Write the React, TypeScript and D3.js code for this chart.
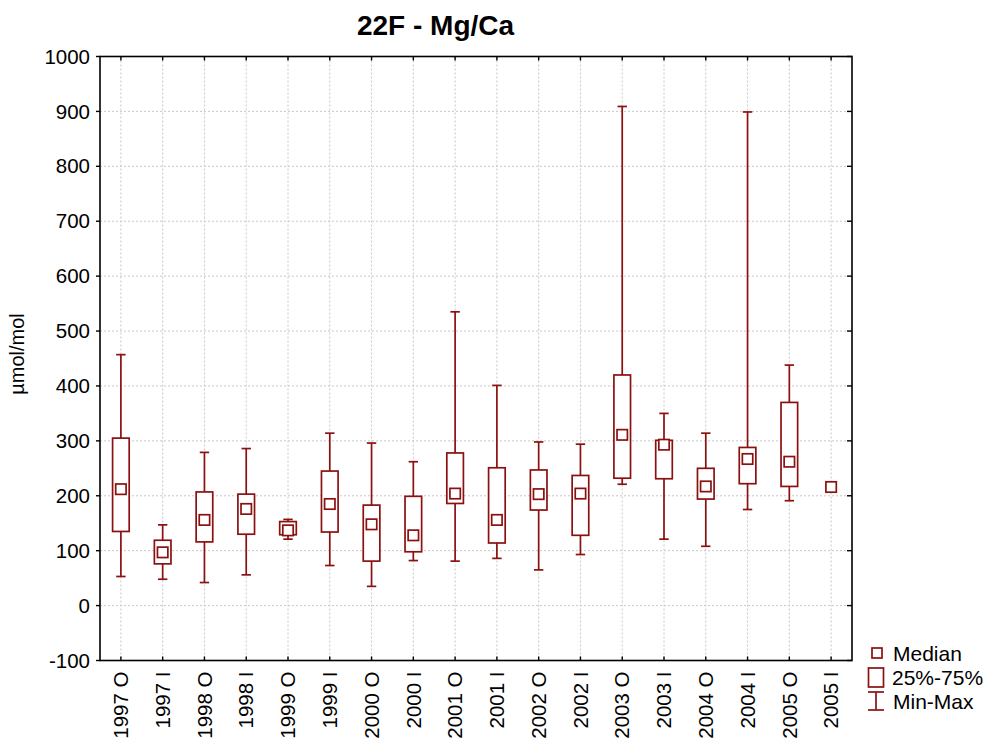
import React from "react";
import * as d3 from "d3";

const categories = [
  "1997 O", "1997 I", "1998 O", "1998 I", "1999 O", "1999 I", "2000 O", "2000 I", "2001 O",
  "2001 I", "2002 O", "2002 I", "2003 O", "2003 I", "2004 O", "2004 I", "2005 O", "2005 I",
];
const mins = [53, 48, 42, 56, 121, 73, 35, 82, 81, 86, 65, 93, 221, 121, 108, 175, 191, 216];
const q1s = [135, 76, 116, 130, 129, 134, 81, 98, 186, 114, 174, 128, 232, 231, 194, 222, 217, 216];
const medians = [212, 97, 156, 176, 137, 185, 148, 128, 204, 156, 203, 204, 311, 293, 217, 267, 262, 216];
const q3s = [305, 119, 207, 203, 153, 245, 183, 199, 278, 251, 247, 237, 420, 301, 250, 288, 370, 216];
const maxs = [457, 147, 279, 286, 157, 314, 296, 262, 535, 401, 298, 294, 909, 350, 314, 899, 438, 216];
const yTicks = [-100, 0, 100, 200, 300, 400, 500, 600, 700, 800, 900, 1000];

const W = 987;
const H = 742;
const M = { left: 100, right: 852, top: 56.5, bottom: 660.5 };
const RED = "#8b1111";
const FONT = "Liberation Sans, Arial, sans-serif";

export default function App() {
  const x = d3.scaleBand<string>().domain(categories).range([M.left, M.right]);
  const y = d3.scaleLinear().domain([-100, 1000]).range([M.bottom, M.top]);
  const cx = (c: string) => (x(c) ?? 0) + x.bandwidth() / 2;
  const boxHalf = 8.3;
  const medHalf = 5.2;
  const capHalf = 4.7;

  const rows = categories.map((c, i) => ({
    c, min: mins[i], q1: q1s[i], med: medians[i], q3: q3s[i], max: maxs[i],
  }));

  return (
    <svg width={W} height={H} style={{ position: "absolute", left: 0, top: 0, background: "#fff" }} fontFamily={FONT}>
      <rect x={0} y={0} width={W} height={H} fill="#fff" />
      <text x={435.5} y={35} textAnchor="middle" fontSize={28} fontWeight="bold">22F - Mg/Ca</text>

      {/* grid */}
      <g stroke="#c8c8c8" strokeWidth={1} strokeDasharray="2,2">
        {yTicks.map(t => (
          <line key={"gy" + t} x1={M.left} x2={M.right} y1={y(t)} y2={y(t)} />
        ))}
        {categories.map(c => (
          <line key={"gx" + c} x1={cx(c)} x2={cx(c)} y1={M.top} y2={M.bottom} />
        ))}
      </g>

      {/* boxes */}
      <g stroke={RED} strokeWidth={1.7} fill="none">
        {rows.map(r => {
          const xc = cx(r.c);
          const hasBox = r.max !== r.min;
          return (
            <g key={r.c}>
              {hasBox && (
                <>
                  <line x1={xc} x2={xc} y1={y(r.max)} y2={y(r.q3)} />
                  <line x1={xc} x2={xc} y1={y(r.q1)} y2={y(r.min)} />
                  <line x1={xc - capHalf} x2={xc + capHalf} y1={y(r.max)} y2={y(r.max)} />
                  <line x1={xc - capHalf} x2={xc + capHalf} y1={y(r.min)} y2={y(r.min)} />
                  <rect x={xc - boxHalf} y={y(r.q3)} width={boxHalf * 2} height={y(r.q1) - y(r.q3)} fill="#fff" />
                </>
              )}
              <rect x={xc - medHalf} y={y(r.med) - medHalf} width={medHalf * 2} height={medHalf * 2} fill="#fff" />
            </g>
          );
        })}
      </g>

      {/* frame */}
      <rect x={M.left} y={M.top} width={M.right - M.left} height={M.bottom - M.top} fill="none" stroke="#000" strokeWidth={1.6} />

      {/* ticks */}
      <g stroke="#000" strokeWidth={1.4}>
        {yTicks.map(t => (
          <g key={"ty" + t}>
            <line x1={M.left - 4} x2={M.left} y1={y(t)} y2={y(t)} />
            <line x1={M.right - 5} x2={M.right} y1={y(t)} y2={y(t)} />
          </g>
        ))}
        {categories.map(c => (
          <g key={"tx" + c}>
            <line x1={cx(c)} x2={cx(c)} y1={M.top} y2={M.top + 4} />
            <line x1={cx(c)} x2={cx(c)} y1={M.bottom} y2={M.bottom - 4} />
          </g>
        ))}
      </g>

      {/* y labels */}
      <g fontSize={20.5} textAnchor="end">
        {yTicks.map(t => (
          <text key={"ly" + t} x={90} y={y(t)} dy="0.35em">{t}</text>
        ))}
      </g>
      <text transform={`translate(24,354) rotate(-90)`} textAnchor="middle" fontSize={20}>µmol/mol</text>

      {/* x labels */}
      <g fontSize={20.5} textAnchor="end">
        {categories.map(c => (
          <text key={"lx" + c} transform={`translate(${cx(c)},${M.bottom + 11}) rotate(-90)`} dy="0.35em">{c}</text>
        ))}
      </g>

      {/* legend */}
      <g stroke={RED} strokeWidth={1.7} fill="none">
        <rect x={872} y={648} width={10} height={10} />
        <rect x={868.5} y={668} width={15} height={19} />
        <line x1={876} x2={876} y1={692} y2={710} />
        <line x1={868} x2={884} y1={692} y2={692} />
        <line x1={868} x2={884} y1={710} y2={710} />
      </g>
      <g fontSize={21}>
        <text x={893} y={661}>Median</text>
        <text x={892} y={685}>25%-75%</text>
        <text x={893} y={709}>Min-Max</text>
      </g>
    </svg>
  );
}
